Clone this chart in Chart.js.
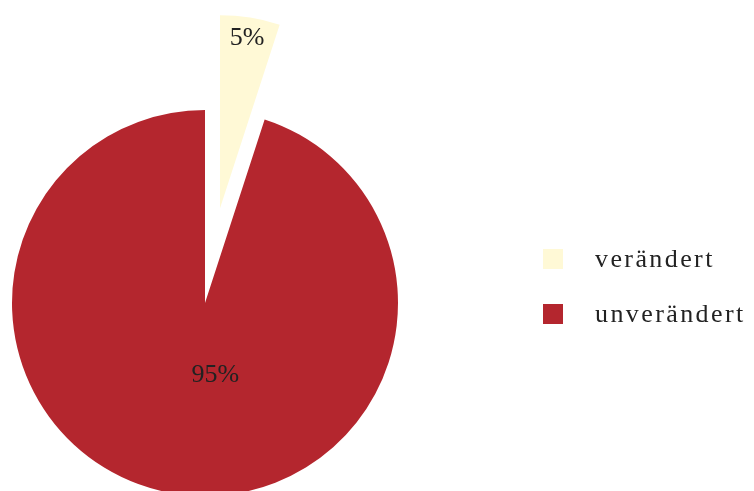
<!DOCTYPE html>
<html>
<head>
<meta charset="utf-8">
<script src="https://cdn.jsdelivr.net/npm/chart.js@4/dist/chart.umd.min.js"></script>
<style>
  html, body { margin: 0; padding: 0; background: #fff; }
  #wrap { position: relative; width: 754px; height: 491px; overflow: hidden; }
  #legend {
    position: absolute; left: 543px; top: 249px;
    font-family: "Liberation Serif", serif; font-size: 26px;
    letter-spacing: 2.4px; color: #222;
  }
  .item { display: flex; align-items: center; height: 20px; margin-bottom: 35px; white-space: nowrap; }
  .swatch { width: 20px; height: 20px; margin-right: 32px; flex: none; }
</style>
</head>
<body>
<div id="wrap">
  <canvas id="pie"></canvas>
  <div id="legend"></div>
</div>
<script>
const labels = ['verändert', 'unverändert'];
const shares = [5, 95];
const colors = ['#FFF9D6', '#B4262E'];

// pull the small slice out of the pie instead of Chart.js' own offset,
// which also grows the radius
const explode = {
  id: 'explode',
  beforeDatasetDraw(chart, args, opts) {
    const ctx = chart.ctx;
    args.meta.data.forEach((arc, i) => {
      const d = opts.distance[i] || 0;
      const mid = (arc.startAngle + arc.endAngle) / 2;
      ctx.save();
      ctx.translate(Math.cos(mid) * d, Math.sin(mid) * d);
      arc.draw(ctx);
      ctx.restore();
    });
    return false;
  }
};

// percentage text inside each slice
const pctLabels = {
  id: 'pctLabels',
  afterDatasetsDraw(chart, args, opts) {
    const ctx = chart.ctx;
    const meta = chart.getDatasetMeta(0);
    const pull = chart.options.plugins.explode.distance;
    ctx.save();
    ctx.font = opts.size + 'px ' + opts.family;
    ctx.fillStyle = opts.color;
    ctx.textAlign = 'center';
    ctx.textBaseline = 'alphabetic';
    meta.data.forEach((arc, i) => {
      const mid = (arc.startAngle + arc.endAngle) / 2;
      const d = pull[i] || 0;
      const cx = arc.x + Math.cos(mid) * d;
      const cy = arc.y + Math.sin(mid) * d;
      const a = opts.angle[i] == null ? mid : opts.angle[i] * Math.PI / 180;
      const r = arc.outerRadius * opts.radius[i];
      const txt = chart.data.datasets[0].data[i] + '%';
      ctx.fillText(txt, cx + Math.cos(a) * r, cy + Math.sin(a) * r + opts.size * 0.34);
    });
    ctx.restore();
  }
};

new Chart(document.getElementById('pie'), {
  type: 'pie',
  data: {
    labels: labels,
    datasets: [{
      data: shares,
      backgroundColor: colors,
      borderWidth: 0,
      clip: false
    }]
  },
  options: {
    responsive: true,
    maintainAspectRatio: false,
    animation: false,
    events: [],
    radius: 193,
    layout: { padding: { top: 115, left: 0, right: 344, bottom: 0 } },
    plugins: {
      legend: { display: false },
      tooltip: { enabled: false },
      explode: { distance: [96, 0] },
      pctLabels: {
        family: '"Liberation Serif", serif',
        size: 26,
        color: '#222',
        angle: [null, 81.6],
        radius: [0.9, 0.37]
      }
    }
  },
  plugins: [explode, pctLabels]
});

const legend = document.getElementById('legend');
labels.forEach((name, i) => {
  const row = document.createElement('div');
  row.className = 'item';
  const sw = document.createElement('span');
  sw.className = 'swatch';
  sw.style.background = colors[i];
  const txt = document.createElement('span');
  txt.textContent = name;
  row.appendChild(sw);
  row.appendChild(txt);
  legend.appendChild(row);
});
</script>
</body>
</html>
